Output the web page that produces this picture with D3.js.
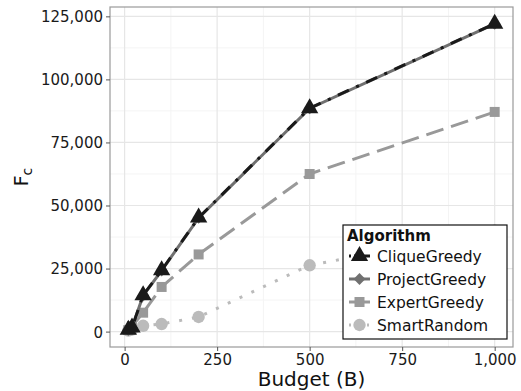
<!DOCTYPE html>
<html>
<head>
<meta charset="utf-8">
<script src="https://cdn.jsdelivr.net/npm/d3@7"></script>
<style>
  body { margin: 0; background: #fff; }
  svg { font-family: "DejaVu Sans", sans-serif; }
</style>
</head>
<body>
<svg id="chart" width="521" height="391"></svg>
<script>
"use strict";

// Datos
const budgets = [10, 20, 50, 100, 200, 500, 1000];
const cliqueGreedy = [700, 1600, 14400, 24300, 45200, 88600, 122100];
const projectGreedy = [650, 1550, 14300, 24200, 45100, 88500, 122000];
const expertGreedy = [600, 2200, 7500, 17700, 30600, 62500, 87100];
const smartRandom = [400, 800, 2300, 3000, 5800, 26300, 40000];
const algorithms = ["CliqueGreedy", "ProjectGreedy", "ExpertGreedy", "SmartRandom"];
const xTicks = [0, 250, 500, 750, 1000];
const yTicks = [0, 25000, 50000, 75000, 100000, 125000];

const width = 521;
const height = 391;
const panel = { left: 110, top: 7, right: 513, bottom: 347 };

const seriesValues = [cliqueGreedy, projectGreedy, expertGreedy, smartRandom];
const styles = [
  { color: "#1a1a1a", dash: "3,8,12,8", shape: d3.symbolTriangle, size: 130, rot: 0 },
  { color: "#707070", dash: null, shape: d3.symbolSquare, size: 70, rot: 45 },
  { color: "#999999", dash: "18,8", shape: d3.symbolSquare, size: 100, rot: 0 },
  { color: "#bbbbbb", dash: "3,10", shape: d3.symbolCircle, size: 120, rot: 0 },
];

const series = algorithms.map((name, i) => ({
  name,
  style: styles[i],
  values: budgets.map((b, j) => ({ b, v: seriesValues[i][j] })),
}));

// Escalas (expansión del 5% como ggplot)
const xPad = (1000 - 10) * 0.05;
const x = d3.scaleLinear()
  .domain([10 - xPad, 1000 + xPad])
  .range([panel.left, panel.right]);

const yMax = d3.max(cliqueGreedy);
const yPad = yMax * 0.05;
const y = d3.scaleLinear()
  .domain([0 - yPad, yMax + yPad + 500])
  .range([panel.bottom, panel.top]);

const svg = d3.select("#chart");

// Rejilla menor
const g = svg.append("g");
[125, 375, 625, 875].forEach((t) => {
  g.append("line").attr("x1", x(t)).attr("x2", x(t))
    .attr("y1", panel.top).attr("y2", panel.bottom)
    .attr("stroke", "#f4f4f4").attr("stroke-width", 1);
});
[12500, 37500, 62500, 87500, 112500].forEach((t) => {
  g.append("line").attr("y1", y(t)).attr("y2", y(t))
    .attr("x1", panel.left).attr("x2", panel.right)
    .attr("stroke", "#f4f4f4").attr("stroke-width", 1);
});
// Rejilla mayor
xTicks.forEach((t) => {
  g.append("line").attr("x1", x(t)).attr("x2", x(t))
    .attr("y1", panel.top).attr("y2", panel.bottom)
    .attr("stroke", "#e6e6e6").attr("stroke-width", 1.2);
});
yTicks.forEach((t) => {
  g.append("line").attr("y1", y(t)).attr("y2", y(t))
    .attr("x1", panel.left).attr("x2", panel.right)
    .attr("stroke", "#e6e6e6").attr("stroke-width", 1.2);
});

// Borde del panel
svg.append("rect")
  .attr("x", panel.left).attr("y", panel.top)
  .attr("width", panel.right - panel.left)
  .attr("height", panel.bottom - panel.top)
  .attr("fill", "none").attr("stroke", "#9a9a9a").attr("stroke-width", 1.2);

// Ejes
const fmt = d3.format(",");
const xAxis = svg.append("g")
  .attr("transform", `translate(0,${panel.bottom})`)
  .call(d3.axisBottom(x).tickValues(xTicks).tickSize(4).tickPadding(3).tickSizeOuter(0));
const yAxis = svg.append("g")
  .attr("transform", `translate(${panel.left},0)`)
  .call(d3.axisLeft(y).tickValues(yTicks).tickFormat(fmt).tickSize(4).tickPadding(3).tickSizeOuter(0));
[xAxis, yAxis].forEach((a) => {
  a.select(".domain").remove();
  a.selectAll(".tick line").attr("stroke", "#555");
  a.selectAll(".tick text")
    .attr("fill", "#1a1a1a")
    .attr("font-size", "15px")
    .attr("font-family", "DejaVu Sans, sans-serif");
});
yAxis.selectAll(".tick text").attr("dy", "0.36em");

// Líneas y puntos (CliqueGreedy encima)
const line = d3.line().x((d) => x(d.b)).y((d) => y(d.v));
series.slice().reverse().forEach((s) => {
  svg.append("path")
    .datum(s.values)
    .attr("fill", "none")
    .attr("stroke", s.style.color)
    .attr("stroke-width", 3)
    .attr("stroke-dasharray", s.style.dash)
    .attr("d", line);
  svg.append("g").selectAll("path")
    .data(s.values)
    .join("path")
    .attr("transform", (d) => `translate(${x(d.b)},${y(d.v)}) rotate(${s.style.rot})`)
    .attr("d", d3.symbol().type(s.style.shape).size(s.style.size))
    .attr("fill", s.style.color);
});

// Títulos de los ejes
svg.append("text")
  .attr("x", (panel.left + panel.right) / 2)
  .attr("y", 386)
  .attr("text-anchor", "middle")
  .attr("font-size", "20px")
  .attr("fill", "#111")
  .text("Budget (B)");

const yTitle = svg.append("text")
  .attr("transform", `translate(28,${(panel.top + panel.bottom) / 2}) rotate(-90)`)
  .attr("text-anchor", "middle")
  .attr("font-size", "19px")
  .attr("fill", "#111");
yTitle.append("tspan").text("F");
yTitle.append("tspan").attr("font-size", "14px").attr("dy", "0.3em").text("c");

// Leyenda
const legend = svg.append("g").attr("transform", "translate(343,225)");
legend.append("rect")
  .attr("width", 164).attr("height", 114)
  .attr("fill", "#fff").attr("stroke", "#111").attr("stroke-width", 1.2);
legend.append("text")
  .attr("x", 4).attr("y", 16)
  .attr("font-size", "15px").attr("font-weight", "bold")
  .attr("fill", "#111")
  .text("Algorithm");
series.forEach((s, i) => {
  const cy = 31 + i * 23;
  const item = legend.append("g").attr("transform", `translate(0,${cy})`);
  item.append("line")
    .attr("x1", 6).attr("x2", 27)
    .attr("stroke", s.style.color).attr("stroke-width", 3)
    .attr("stroke-dasharray", s.style.dash ? (i === 0 ? "2,3,16" : i === 3 ? "2,4" : null) : null);
  item.append("path")
    .attr("transform", `translate(16.5,0) rotate(${s.style.rot})`)
    .attr("d", d3.symbol().type(s.style.shape).size(s.style.size))
    .attr("fill", s.style.color);
  item.append("text")
    .attr("x", 34).attr("y", 0).attr("dy", "0.36em")
    .attr("font-size", "15.5px").attr("fill", "#111")
    .text(s.name);
});
</script>
</body>
</html>
